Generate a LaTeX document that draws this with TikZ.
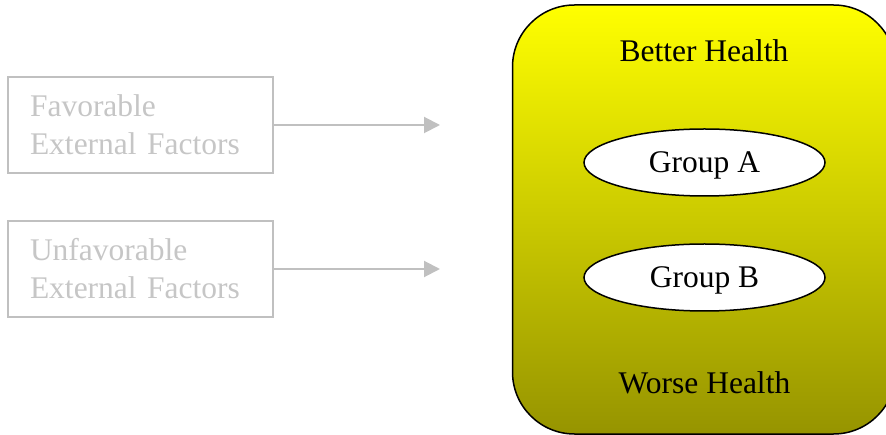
\documentclass[tikz,border=0pt]{standalone}
\usepackage{fontspec}
\setmainfont{Liberation Serif}
\usetikzlibrary{shapes.geometric,arrows.meta}
\definecolor{faint}{RGB}{192,192,192}
\definecolor{fainttext}{RGB}{198,198,198}
\definecolor{ytop}{RGB}{255,255,0}
\definecolor{ymid}{RGB}{213,213,0}
\definecolor{ybot}{RGB}{150,148,0}
\tikzset{
  bigfont/.style={font=\fontsize{31.5}{38}\selectfont},
  factor/.style={draw=faint, line width=1.5pt, bigfont, text=fainttext,
    align=left, text width=221pt, inner xsep=22pt, inner ysep=0pt,
    minimum width=265pt, minimum height=96pt},
  arr/.style={draw=faint, line width=2pt, -{Triangle[length=16pt,width=16pt]}},
  healthbox/.style={draw=black, line width=1.5pt, rounded corners=62pt,
    top color=ytop, middle color=ymid, bottom color=ybot,
    minimum width=383pt, minimum height=429pt, inner sep=0pt},
  group/.style={ellipse, draw=black, line width=1.5pt, fill=white, bigfont,
    minimum width=241pt, minimum height=67pt, text depth=0pt, inner sep=0pt},
  label/.style={bigfont, anchor=base}
}
\begin{document}
\begin{tikzpicture}[x=1pt,y=-1pt]
\useasboundingbox (0,0) rectangle (886,435);
\clip (0,0) rectangle (886,435);
\node[factor] (fav) at (140.5,125) {Favorable\\External Factors};
\node[factor] (unfav) at (140.5,269) {Unfavorable\\External Factors};
\coordinate (favend) at (440,125);
\coordinate (unfavend) at (440,269);
\draw[arr] (fav.east) -- (favend);
\draw[arr] (unfav.east) -- (unfavend);
\node[healthbox] (health) at (704,219.5) {};
\node[label] (better) at (704,62) {Better Health};
\node[label] (worse) at (704.5,393) {Worse Health};
\node[group] (ga) at (704.5,162.5) {Group A};
\node[group] (gb) at (704.5,277.5) {Group B};
\end{tikzpicture}
\end{document}
